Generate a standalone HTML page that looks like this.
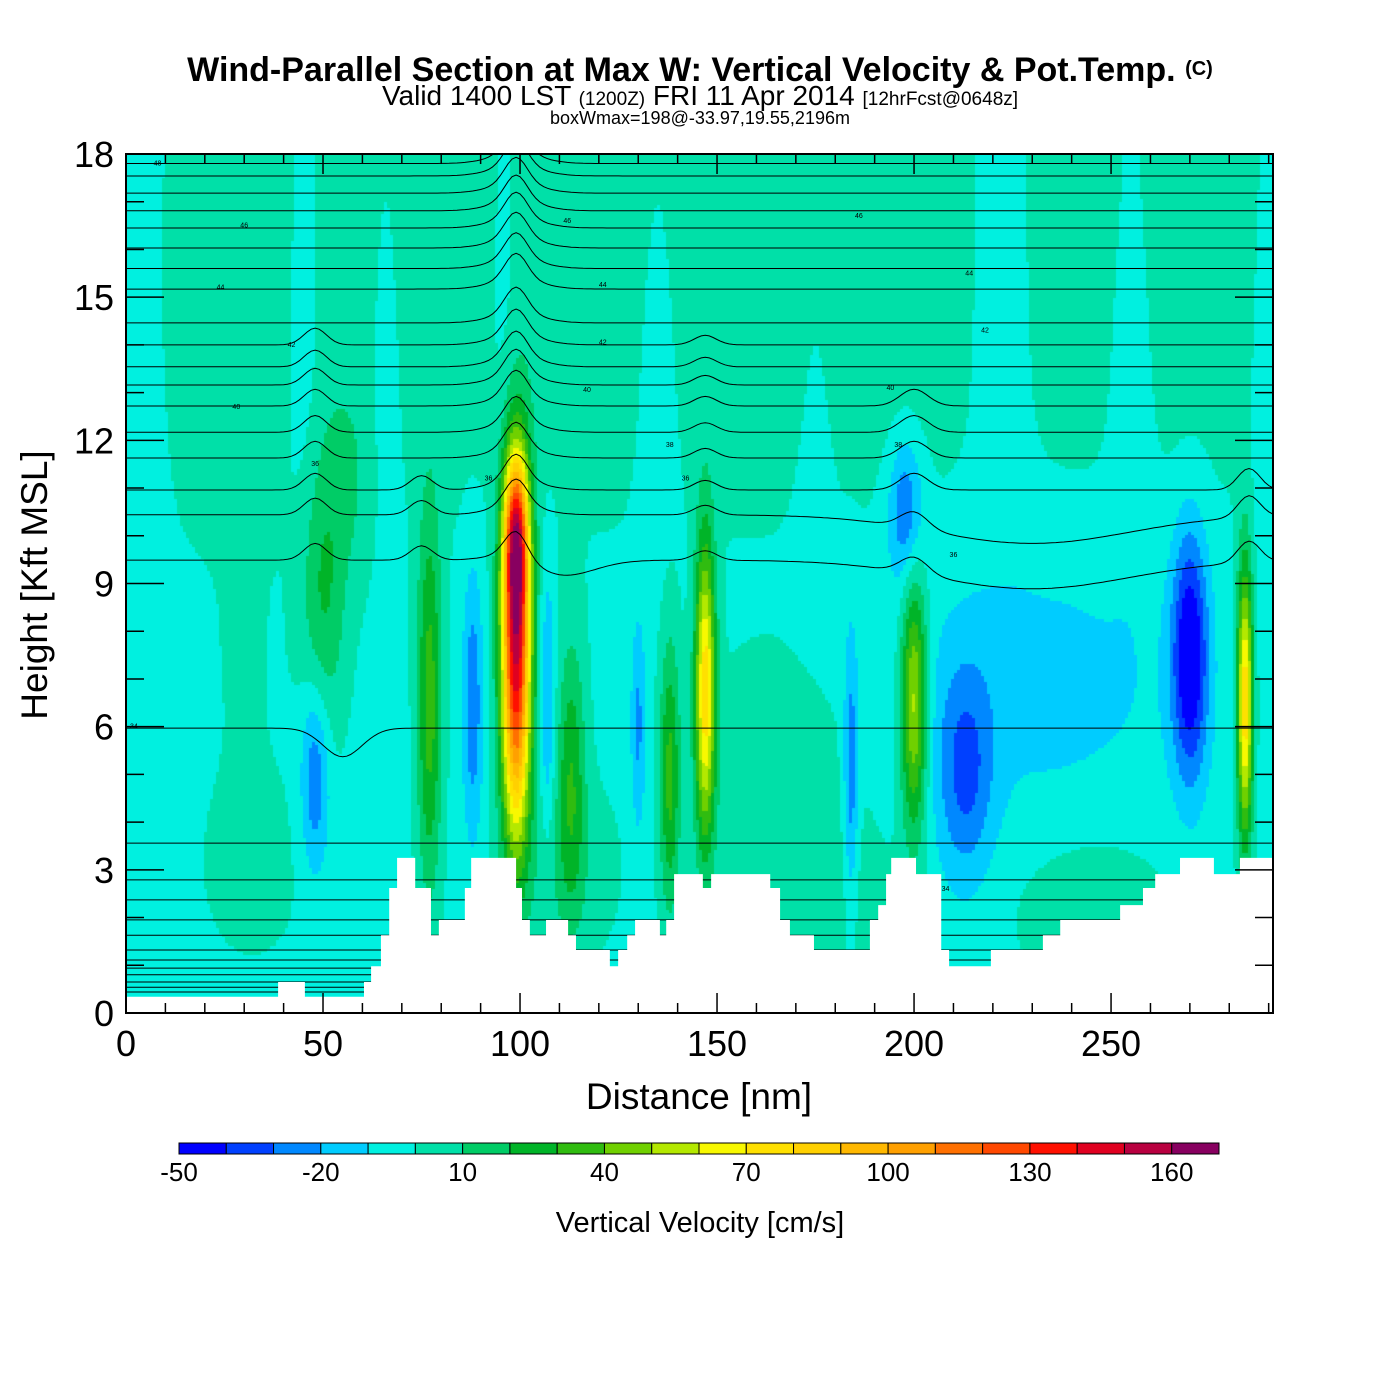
<!DOCTYPE html>
<html><head><meta charset="utf-8">
<style>
body{margin:0;background:#fff;width:1400px;height:1400px;overflow:hidden;font-family:"Liberation Sans",Arial,sans-serif}
#wrap{position:relative;width:1400px;height:1400px}
canvas{position:absolute;left:126px;top:154px}
svg{position:absolute;left:0;top:0}
</style></head><body>
<div id="wrap">
<canvas id="fld" width="1147" height="859"></canvas>
<svg id="svg" width="1400" height="1400">
<defs><clipPath id="pc"><rect x="126" y="154" width="1147" height="859"/></clipPath></defs>
<text x="700" y="81" text-anchor="middle" font-size="34" font-weight="bold">Wind-Parallel Section at Max W: Vertical Velocity &amp; Pot.Temp. <tspan font-size="20" dy="-6">(C)</tspan></text>
<text x="700" y="105" text-anchor="middle" font-size="28">Valid 1400 LST <tspan font-size="19">(1200Z)</tspan> FRI 11 Apr 2014 <tspan font-size="19">[12hrFcst@0648z]</tspan></text>
<text x="700" y="124" text-anchor="middle" font-size="18">boxWmax=198@-33.97,19.55,2196m</text>
<text x="699" y="1109" text-anchor="middle" font-size="37">Distance [nm]</text>
<text transform="translate(47,585) rotate(-90)" text-anchor="middle" font-size="37">Height [Kft MSL]</text>
<text x="700" y="1232" text-anchor="middle" font-size="29">Vertical Velocity [cm/s]</text>
</svg>
</div>
<script>
// ---- data ----
const levelColors=["#0000ff","#0040ff","#0088ff","#00ccff","#00f0e0","#00e0a8","#00cc66","#00b428","#30bc10","#70d000","#b4e800","#f8f800","#ffe000","#ffd000","#ffb800","#ffa000","#ff7000","#ff4800","#ff1000","#e00020","#b80040","#880060"];
const levelMin=-50, levelStep=10;
const cbarLabels=[-50,-20,10,40,70,100,130,160];
const xTicks=[0,50,100,150,200,250];
const yTicks=[0,3,6,9,12,15,18];
// vertical velocity features: [distance, height, value, sigma dist, sigma height]
const wDist=[99,99,147,200,284,77,138,113,50,56,48,270,213,198,88,107,130,184,232,165,245,145,20,5,45,66,96,135,222,255,290,175,32,30,110,185];
const wZ   =[7.5,10,6.8,6.5,6.5,6.5,5,5,8.5,11,5,7.5,5.0,10.5,6.5,6.5,6,5,7,4.5,2.2,15.5,15,15,15,14,15,14,15,14,14,14,3,7,3,2];
const wVal =[148,80,78,58,82,38,35,30,22,10,-28,-50,-27,-30,-25,-20,-20,-26,-11,10,10,10,3,-12,-10,-9,-9,-10,-12,-10,-10,-6,6,3,10,6];
const wSx  =[2.6,2.2,1.8,2.3,1.4,2.2,1.8,2.5,4,5,2.5,3.2,5,3,1.8,1.3,1.3,1.3,25,14,14,200,12,4,3,3,3,4,6,4,3,4,10,8,10,10];
const wSz  =[2.6,1.2,2.2,1.9,2.0,2.8,2.0,2.0,2.0,1.5,1.4,1.8,1.6,1.1,2.0,2.0,1.6,2.0,2.2,2.0,1.2,3.5,3,4,3,3,3,3,3,3,3,3,1.5,2,1.5,1.5];
const wBase=-3;
// terrain steps
const terrD=[0,38.6,45.4,60.4,62.2,64.7,66.8,68.8,73.4,77.4,79.4,86.0,87.6,99.0,100.5,102.5,106.6,112.2,114.2,122.8,124.9,127.2,129.2,135.5,137.1,139.1,146.4,148.5,163.5,166.0,168.5,174.6,188.8,190.9,192.9,194.2,200.5,206.9,208.9,219.5,232.7,237.1,252.3,258.1,261.2,267.5,276.1,282.7];
const terrZ=[0.34,0.65,0.34,0.65,0.98,1.63,2.62,3.25,2.62,1.63,1.95,2.62,3.25,2.62,1.95,1.63,1.95,1.63,1.32,0.98,1.32,1.63,1.95,1.63,1.95,2.91,2.62,2.91,2.62,1.95,1.63,1.32,1.95,2.26,2.91,3.25,2.91,1.32,0.98,1.32,1.63,1.95,2.26,2.62,2.91,3.25,2.91,3.25];
const xMax=291.1;
// theta contour base heights
const thetaZ0=[17.8,17.54,17.18,16.81,16.45,16.03,15.6,15.17,14.46,14.0,13.54,13.16,12.72,12.17,11.63,10.96,10.44,9.49,5.97,3.56,2.79,2.37,1.95,1.63,1.32,1.11,0.94,0.8,0.65,0.54,0.44];
const bumpC=[99,99,48,75,147,200,230,285,110,55];
const bumpW=[4,9,4,4,4,5,35,4,12,7];
const bumpA=[0.55,0.2,0.35,0.3,0.2,0.35,-0.6,0.45,-0.35,-0.6];
const bumpLo=[9,9,8,8,9,9,7.5,8,8,5];
const bumpHi=[18,18,14,11.5,14,13,10.5,11,10,7];
const thetaLabels=[["48",8,17.8],["46",30,16.5],["44",24,15.2],["42",42,14.0],["40",28,12.7],["36",48,11.5],["34",2,6.0],["46",112,16.6],["44",121,15.25],["42",121,14.05],["40",117,13.05],["38",138,11.9],["36",92,11.2],["36",142,11.2],["46",186,16.7],["44",214,15.5],["42",218,14.3],["40",194,13.1],["38",196,11.9],["36",210,9.6],["34",208,2.6]];
// ---- axes ----
const PL=126,PR=1273,PT=154,PB=1013;
const X=d=>PL+d*(PR-PL)/xMax;
const Y=z=>PB-z*(PB-PT)/18;
const NS="http://www.w3.org/2000/svg";
const svg=document.getElementById('svg');
function mk(tag,attrs,parent){const e=document.createElementNS(NS,tag);for(const k in attrs)e.setAttribute(k,attrs[k]);(parent||svg).appendChild(e);return e;}
// ---- field ----
const cv=document.getElementById('fld'),ctx=cv.getContext('2d');
function wAt(d,z){let v=wBase;for(let i=0;i<wDist.length;i++){const a=(d-wDist[i])/wSx[i],b=(z-wZ[i])/wSz[i];const e=0.5*(a*a+b*b);if(e<12)v+=wVal[i]*Math.exp(-e);}return v;}
const cs=3;
for(let py=0;py<859;py+=cs){for(let px=0;px<1147;px+=cs){
 const d=(px+cs/2)*xMax/1147, z=18-(py+cs/2)*18/859;
 let k=Math.floor((wAt(d,z)-levelMin)/levelStep);k=Math.max(0,Math.min(levelColors.length-1,k));
 ctx.fillStyle=levelColors[k];ctx.fillRect(px,py,cs,cs);}}
// ---- theta contours ----
const gC=mk('g',{'clip-path':'url(#pc)',});
thetaZ0.forEach((z0,li)=>{
 let pts=[];
 for(let d=0;d<=xMax;d+=1){let z=z0;for(let b=0;b<bumpC.length;b++){if(z0>=bumpLo[b]&&z0<=bumpHi[b]){const t=(d-bumpC[b])/bumpW[b];z+=bumpA[b]*Math.exp(-t*t);}}pts.push(X(d).toFixed(1)+','+Y(z).toFixed(1));}
 const p=mk('polyline',{points:pts.join(' '),fill:'none',stroke:'#000','stroke-width':1},gC);
 
 
});
// ---- terrain ----
let tp=[X(0)+','+PB];
for(let i=0;i<terrD.length;i++){const xe=i+1<terrD.length?terrD[i+1]:xMax;tp.push(X(terrD[i])+','+Y(terrZ[i]));tp.push(X(xe)+','+Y(terrZ[i]));}
tp.push(X(xMax)+','+PB);
mk('polygon',{points:tp.join(' '),fill:'#fff',stroke:'none',});
thetaLabels.forEach(l=>{
 const t=mk('text',{x:X(l[1]),y:Y(l[2])+2,'font-size':7,'text-anchor':'middle'});t.textContent=l[0];
 
 
});
// ---- frame & ticks ----
mk('rect',{x:PL,y:PT,width:PR-PL,height:PB-PT,fill:'none',stroke:'#000','stroke-width':2,});
const gT=mk('g',{stroke:'#000','stroke-width':1.5,});
for(let d=0;d<=290;d+=10){const maj=d%50==0,L=maj?20:10;mk('line',{x1:X(d),y1:PB,x2:X(d),y2:PB-L},gT);mk('line',{x1:X(d),y1:PT,x2:X(d),y2:PT+L},gT);}
for(let z=0;z<=18;z+=1){const maj=z%3==0,L=maj?38:18;mk('line',{x1:PL,y1:Y(z),x2:PL+L,y2:Y(z)},gT);mk('line',{x1:PR,y1:Y(z),x2:PR-L,y2:Y(z)},gT);}
xTicks.forEach(d=>{const t=mk('text',{x:X(d),y:1056,'font-size':36,'text-anchor':'middle'});t.textContent=d;
 });
yTicks.forEach(z=>{const t=mk('text',{x:114,y:Y(z)+13,'font-size':36,'text-anchor':'end'});t.textContent=z;
 });
// ---- colorbar ----
const CB0=179,CB1=1219,bw=(CB1-CB0)/levelColors.length;
const gB=mk('g',{});
levelColors.forEach((c,i)=>{const r=mk('rect',{x:CB0+i*bw,y:1143,width:bw,height:11,fill:c,stroke:'#000','stroke-width':1},gB);
 });
cbarLabels.forEach(v=>{const t=mk('text',{x:CB0+(v-levelMin)/levelStep*bw,y:1181,'font-size':26,'text-anchor':'middle'});t.textContent=v;
 });
</script>
</body></html>
